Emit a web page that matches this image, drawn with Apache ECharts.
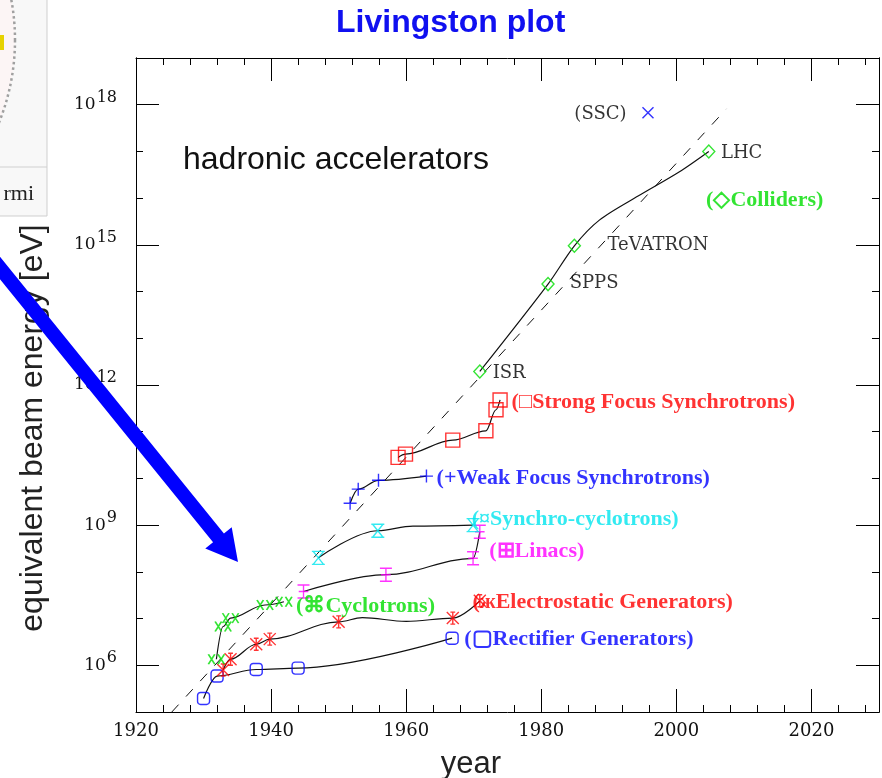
<!DOCTYPE html>
<html><head><meta charset="utf-8">
<script src="https://cdn.jsdelivr.net/npm/echarts@6/dist/echarts.min.js"></script>
<style>html,body{margin:0;padding:0;background:#fff}#c{width:882px;height:778px}</style>
</head><body><div id="c"></div>
<script>
// x = year, y = log10(equivalent beam energy / eV)
const rectifierYears = [1930.0, 1932.0, 1937.8, 1944.0, 1966.8];
const rectifierLogE  = [5.29, 5.77, 5.91, 5.94, 6.58];
const electrostaticYears = [1932.9, 1934.0, 1937.8, 1939.8, 1950.0, 1966.9, 1970.9];
const electrostaticLogE  = [5.90, 6.13, 6.45, 6.56, 6.93, 7.01, 7.38];
const cyclotronYears = [1931.9, 1932.9, 1934.0, 1939.1, 1941.9];
const cyclotronLogE  = [6.13, 6.83, 7.01, 7.29, 7.36];
const linacYears = [1944.8, 1957.0, 1969.9, 1970.9];
const linacLogE  = [7.58, 7.94, 8.29, 8.86];
const synchroYears = [1947.0, 1955.8, 1969.9];
const synchroLogE  = [8.30, 8.88, 9.00];
const weakYears = [1951.7, 1952.9, 1955.9, 1963.0];
const weakLogE  = [9.47, 9.77, 9.96, 10.05];
const strongYears = [1958.8, 1959.9, 1966.9, 1971.8, 1973.3, 1973.9];
const strongLogE  = [10.45, 10.52, 10.82, 11.02, 11.47, 11.68];
const colliderYears = [1970.9, 1981.0, 1984.9, 2004.8];
const colliderLogE  = [12.29, 14.16, 14.98, 17.00];
const sscYears = [1995.8];
const sscLogE  = [17.83];

// extra points of the hand-drawn trend curves
const electrostaticBendYears = [1953.5, 1960.0];
const electrostaticBendLogE  = [7.02, 6.94];
const synchroBendYears = [1961.0];
const synchroBendLogE  = [8.98];
const colliderBendYears = [1988.6, 1994.4, 2000.4];
const colliderBendLogE  = [15.53, 16.05, 16.56];

// dashed overall trend line
const trendYears = [1925.3, 2007.4];
const trendLogE  = [5.00, 17.91];

// axis ticks
const yMajorTicks = [6, 9, 12, 15, 18];

// annotations (anchor = left end of the text)
const noteTexts = ['(SSC)', 'LHC', 'TeVATRON', 'SPPS', 'ISR'];
const noteYears = [1984.9, 2006.6, 1989.8, 1984.2, 1972.8];
const noteLogE  = [17.80, 16.97, 14.98, 14.17, 12.24];
const familyTexts = ['(\u25C7Colliders)', '(\u25A1Strong Focus Synchrotrons)', '(+Weak Focus Synchrotrons)',
  '(\u00A4Synchro-cyclotrons)', '(\u229ELinacs)', '(\u0436Electrostatic Generators)',
  '(\u25A2Rectifier Generators)', '(\u2318Cyclotrons)'];
const familyYears = [2004.4, 1975.6, 1964.5, 1969.7, 1972.3, 1969.8, 1968.6, 1943.7];
const familyLogE  = [15.96, 11.64, 10.01, 9.13, 8.43, 7.35, 6.56, 7.27];

const GREEN = '#00dd00', RED = '#ff0000', BLUE = '#0000ff', CYAN = '#00e5ee', MAGENTA = '#ff00ff';
const familyColors = [GREEN, RED, BLUE, CYAN, MAGENTA, RED, BLUE, GREEN];

function pts(xs, ys) { return xs.map((x, i) => [x, ys[i]]); }
function merged(xs, ys, bx, by) { return pts(xs, ys).concat(pts(bx, by)).sort((a, b) => a[0] - b[0]); }

function curve(data, monotone) {
  return { type: 'line', data: data, smooth: monotone ? 0.35 : 0.3, smoothMonotone: monotone ? 'x' : null,
    symbol: 'none', silent: true, lineStyle: { color: '#111', width: 1.2 }, z: 2 };
}
function markers(data, symbol, size, color) {
  return { type: 'scatter', data: data, symbol: symbol, symbolSize: size, silent: true, z: 3,
    itemStyle: { color: 'transparent', borderColor: color, borderWidth: 1.4 } };
}

const SYM_PLUS = 'path://M0,5L10,5M5,0L5,10';
const SYM_X = 'path://M0,0L10,10M10,0L0,10';
const SYM_STAR = 'path://M0,0L10,10M10,0L0,10M5,0L5,10M3,0L7,0M3,10L7,10';
const SYM_XX = 'path://M0,0L6,8M6,0L0,8M9,0L15,8M15,0L9,8';
const SYM_LINAC = 'path://M0,0L10,0M0,12L10,12M5,0L5,12M1,6L9,6';
const SYM_SYNC = 'path://M0,0L10,0M0,10L10,10M1,0L9,10M9,0L1,10';

const axisLineStyle = { show: true, lineStyle: { color: '#000', width: 1 } };
function xAx(pos, labels) {
  return { type: 'value', position: pos, min: 1920, max: 2030, interval: 20,
    axisLine: axisLineStyle,
    axisTick: { show: true, inside: true, length: 23, lineStyle: { color: '#000' } },
    minorTick: { show: true, splitNumber: 5, length: 7, lineStyle: { color: '#000' } },
    splitLine: { show: false }, minorSplitLine: { show: false },
    axisLabel: { show: labels, margin: 10, fontFamily: 'DejaVu Serif', fontSize: 18, color: '#111',
      formatter: v => (v > 2020 ? '' : String(v)) } };
}
function yMinor(pos) {
  return { type: 'value', position: pos, min: 5, max: 19, interval: 1,
    axisLine: axisLineStyle,
    axisTick: { show: true, inside: true, length: 7, lineStyle: { color: '#000' } },
    splitLine: { show: false }, axisLabel: { show: false } };
}
function yMajor(pos, labels) {
  return { type: 'value', position: pos, min: 5, max: 19, interval: 1,
    axisLine: axisLineStyle,
    axisTick: { show: true, inside: true, length: 23, customValues: yMajorTicks, lineStyle: { color: '#000' } },
    splitLine: { show: false },
    axisLabel: { show: labels, customValues: yMajorTicks, margin: 19,
      formatter: v => '{b|10}{s|' + v + '}',
      rich: { b: { fontFamily: 'DejaVu Serif', fontSize: 17, color: '#111' },
              s: { fontFamily: 'DejaVu Serif', fontSize: 16, color: '#111', padding: [0, 0, 14, 1] } } } };
}

function labelSeries(texts, xs, ys, colors, font, size, weight) {
  return { type: 'scatter', symbolSize: 0, silent: true, z: 4,
    data: texts.map((t, i) => ({ name: t, value: [xs[i], ys[i]],
      label: { color: Array.isArray(colors) ? colors[i] : colors } })),
    label: { show: true, position: 'right', distance: 0, align: 'left', verticalAlign: 'middle',
      formatter: p => p.name, fontFamily: font, fontSize: size, fontWeight: weight } };
}

// arrow geometry
const tip = [238, 562], tail = [0, 268];
const dl = Math.hypot(tip[0] - tail[0], tip[1] - tail[1]);
const d = [(tip[0] - tail[0]) / dl, (tip[1] - tail[1]) / dl], n = [-d[1], d[0]];
const S = [tip[0] - 420 * d[0], tip[1] - 420 * d[1]], B = [tip[0] - 31 * d[0], tip[1] - 31 * d[1]];
const off = (p, k) => [p[0] + k * n[0], p[1] + k * n[1]];
const arrowPts = [off(S, 7), off(B, 7), off(B, 17), tip, off(B, -17), off(B, -7), off(S, -7)];

const chart = echarts.init(document.getElementById('c'));
chart.setOption({
  animation: false,
  backgroundColor: '#fff',
  title: { text: 'Livingston plot', left: 336, top: 7, padding: 0,
    textStyle: { fontFamily: 'Liberation Sans', fontSize: 32, fontWeight: 'bold', color: '#1010f0' } },
  grid: { left: 136, top: 58, right: 2, bottom: 66 },
  xAxis: [xAx('bottom', true), xAx('top', false)],
  yAxis: [yMinor('left'), yMajor('left', true), yMinor('right'), yMajor('right', false)],
  series: [
    { type: 'line', data: pts(trendYears, trendLogE), symbol: 'none', silent: true, z: 1,
      lineStyle: { color: '#111', width: 1, type: [10, 11] } },
    curve(pts(rectifierYears, rectifierLogE), true),
    curve(merged(electrostaticYears, electrostaticLogE, electrostaticBendYears, electrostaticBendLogE), true),
    curve(pts(cyclotronYears, cyclotronLogE), true),
    curve(pts(linacYears, linacLogE), true),
    curve(merged(synchroYears, synchroLogE, synchroBendYears, synchroBendLogE), true),
    curve(pts(weakYears, weakLogE), true),
    curve(pts(strongYears, strongLogE), true),
    curve(merged(colliderYears, colliderLogE, colliderBendYears, colliderBendLogE), false),
    markers(pts(rectifierYears, rectifierLogE), 'roundRect', 12, BLUE),
    markers(pts(electrostaticYears, electrostaticLogE), SYM_STAR, 12, RED),
    markers(pts(cyclotronYears, cyclotronLogE), SYM_XX, [16, 10], GREEN),
    markers(pts(linacYears, linacLogE), SYM_LINAC, [12, 13], MAGENTA),
    markers(pts(synchroYears, synchroLogE), SYM_SYNC, 13, CYAN),
    markers(pts(weakYears, weakLogE), SYM_PLUS, 13, BLUE),
    markers(pts(strongYears, strongLogE), 'rect', 14, RED),
    markers(pts(colliderYears, colliderLogE), 'diamond', [12, 13], GREEN),
    markers(pts(sscYears, sscLogE), SYM_X, 11, BLUE),
    labelSeries(noteTexts, noteYears, noteLogE, '#000', 'DejaVu Serif', 18, 'normal'),
    labelSeries(familyTexts, familyYears, familyLogE, familyColors, 'Liberation Serif', 22, 'bold')
  ],
  graphic: [
    { type: 'rect', shape: { x: -1, y: -1, width: 48, height: 217 }, z: 10,
      style: { fill: '#f8f8f8', stroke: '#cfcfcf', lineWidth: 1 } },
    { type: 'line', shape: { x1: 0, y1: 167, x2: 47, y2: 167 }, z: 11, style: { stroke: '#d0d0d0', lineWidth: 1 } },
    { type: 'circle', shape: { cx: -206, cy: 40, r: 221 }, z: 11,
      style: { fill: '#fcf5f5', stroke: '#a0a0a0', lineWidth: 2.5, lineDash: [2.5, 3] } },
    { type: 'rect', shape: { x: 0, y: 35, width: 4, height: 15 }, z: 12, style: { fill: '#e6d200' } },
    { type: 'text', x: 34, y: 205, z: 12,
      style: { text: 'rmi', fontFamily: 'Liberation Serif', fontSize: 22, fill: '#222', align: 'right', verticalAlign: 'bottom' } },
    { type: 'text', x: 33, y: 428, rotation: Math.PI / 2, z: 12,
      style: { text: 'equivalent beam energy [eV]', fontFamily: 'Liberation Sans', fontSize: 32, fill: '#222',
        align: 'center', verticalAlign: 'middle' } },
    { type: 'text', x: 471, y: 764, z: 12,
      style: { text: 'year', fontFamily: 'Liberation Sans', fontSize: 31, fill: '#222', align: 'center', verticalAlign: 'middle' } },
    { type: 'text', x: 183, y: 160, z: 12,
      style: { text: 'hadronic accelerators', fontFamily: 'Liberation Sans', fontSize: 32, fill: '#111', align: 'left', verticalAlign: 'middle' } },
    { type: 'polygon', shape: { points: arrowPts }, z: 20, style: { fill: '#0000ff' } }
  ]
});
</script></body></html>
